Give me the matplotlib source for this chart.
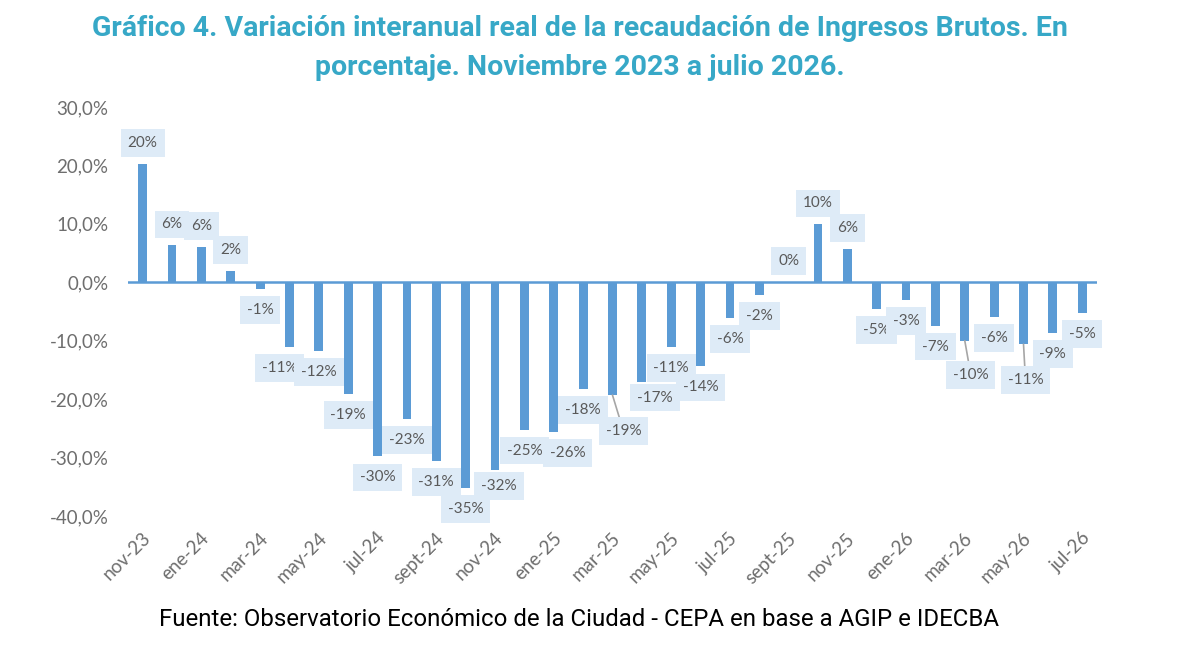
# Gráfico 4 - variación interanual real de Ingresos Brutos
import matplotlib.pyplot as plt
from matplotlib.ticker import FuncFormatter
from matplotlib.transforms import ScaledTranslation

# meses (nov-23 a jul-26)
meses = ['nov-23', 'dic-23', 'ene-24', 'feb-24', 'mar-24', 'abr-24', 'may-24',
         'jun-24', 'jul-24', 'ago-24', 'sept-24', 'oct-24', 'nov-24', 'dic-24',
         'ene-25', 'feb-25', 'mar-25', 'abr-25', 'may-25', 'jun-25', 'jul-25',
         'ago-25', 'sept-25', 'oct-25', 'nov-25', 'dic-25', 'ene-26', 'feb-26',
         'mar-26', 'abr-26', 'may-26', 'jun-26', 'jul-26']

# variacion interanual real, en %
variacion = [20.2, 6.3, 6.1, 1.9, -1.1, -11.1, -11.8, -19.1, -29.8, -23.4,
             -30.6, -35.2, -32.1, -25.2, -25.6, -18.3, -19.3, -17.0, -11.1,
             -14.4, -6.1, -2.2, 0.0, 9.9, 5.7, -4.6, -3.0, -7.4, -10.0, -5.9,
             -10.6, -8.7, -5.2]

titulo = ('Gráfico 4. Variación interanual real de la recaudación de Ingresos Brutos. En\n'
          'porcentaje. Noviembre 2023 a julio 2026.')
fuente = 'Fuente: Observatorio Económico de la Ciudad - CEPA en base a AGIP e IDECBA'

azul = '#5B9BD5'
gris = '#595959'

plt.rcParams['font.family'] = ['Lato', 'DejaVu Sans']

fig = plt.figure(figsize=(11.91, 6.56), dpi=100)
ax = fig.add_axes([0.1075, 0.2134, 0.8135, 0.6235])

x = list(range(len(meses)))
ax.bar(x, variacion, width=0.3, color=azul, zorder=2)
ax.axhline(0, color=azul, lw=1.8, zorder=3)

ax.set_xlim(-0.5, len(meses) - 0.5)
ax.set_ylim(-40, 30)
ax.set_yticks(range(-40, 31, 10))
ax.yaxis.set_major_formatter(FuncFormatter(lambda v, p: f'{v:.1f}%'.replace('.', ',')))
ax.set_xticks(x[::2])
ax.set_xticklabels(meses[::2], rotation=45, ha='right', va='center',
                   rotation_mode='anchor')
ax.tick_params(axis='both', length=0, labelsize=13.5, colors='#6E6E6E')
ax.tick_params(axis='x', pad=14)
ax.tick_params(axis='y', pad=14)
# corrimiento leve de las fechas hacia la derecha
desplazar = ScaledTranslation(5 / 100, 0, fig.dpi_scale_trans)
for lbl in ax.get_xticklabels():
    lbl.set_transform(lbl.get_transform() + desplazar)
for s in ax.spines.values():
    s.set_visible(False)

# etiquetas: desplazamientos manuales (px) para evitar solapamientos
ajuste = {5: (-10, 0), 12: (4, -5), 14: (14, 0), 16: (11, 15), 17: (13, -5),
          28: (6, 13), 30: (2, 15)}
con_linea = [16, 28, 30]

for i, v in enumerate(variacion):
    dx, dy = ajuste.get(i, (0, 0))
    signo = 1 if v >= 0 else -1
    off = (21 + dy) * signo
    props = None
    if i in con_linea:
        props = dict(arrowstyle='-', color='#A6A6A6', lw=1.2,
                     shrinkA=0, shrinkB=0)
    ax.annotate(f'{v:.0f}%', xy=(i, v), xytext=(dx, off),
                textcoords='offset pixels', ha='center', va='center',
                fontsize=11, color=gris, zorder=5, arrowprops=props,
                bbox=dict(boxstyle='square,pad=0.45', fc='#DEEBF7', ec='none'))

fig.text(0.487, 1 - 48 / 656, titulo, ha='center', va='center', fontsize=20.5,
         fontweight='bold', color='#37A8C7', family='Roboto', linespacing=1.55)
fig.text(0.486, 1 - 620 / 656, fuente, ha='center', va='center',
         fontsize=17.3, color='black', family='Roboto')

fig.savefig('out.png', dpi=100)
